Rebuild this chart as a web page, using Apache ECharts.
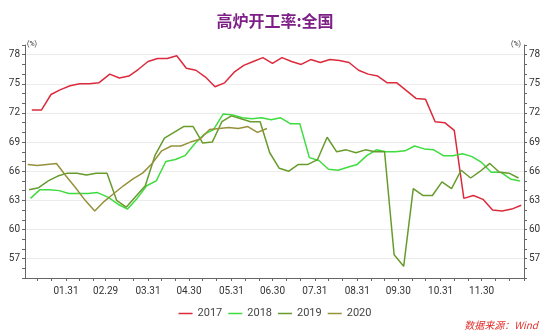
<!DOCTYPE html>
<html><head><meta charset="utf-8">
<script src="https://cdn.jsdelivr.net/npm/echarts@6/dist/echarts.min.js"></script>
<style>html,body{margin:0;padding:0;background:#fff}#c{width:550px;height:331px}</style>
</head><body><div id="c"></div>
<script>
const chartTitle = '高炉开工率:全国';
const sourceText = '数据来源：Wind';
const unitText = '(%)';
const seriesNames = ['2017', '2018', '2019', '2020'];
const firstWeek = ['2017-01-06', '2018-01-05', '2019-01-04', '2020-01-03'];
const tickLabels = ['01.31','02.29','03.31','04.30','05.31','06.30','07.31','08.31','09.30','10.31','11.30'];
const monthEnds = ['01.31','02.29','03.31','04.30','05.31','06.30','07.31','08.31','09.30','10.31','11.30','12.31'];
const yLabelValues = [57, 60, 63, 66, 69, 72, 75, 78];

const v2017 = [72.3,72.3,73.9,74.4,74.8,75.0,75.0,75.1,76.0,75.6,75.8,76.5,77.3,77.6,77.6,77.9,76.6,76.4,75.7,74.7,75.1,76.2,76.9,77.3,77.7,77.1,77.7,77.3,77.0,77.5,77.2,77.5,77.4,77.2,76.4,76.0,75.8,75.1,75.1,74.3,73.5,73.4,71.1,71.0,70.2,63.2,63.5,63.1,62.0,61.9,62.1,62.5];
const v2018 = [63.2,64.1,64.1,64.0,63.7,63.7,63.7,63.8,63.3,62.6,62.1,63.2,64.5,65.0,67.0,67.2,67.6,68.8,69.8,70.3,71.9,71.8,71.5,71.4,71.5,71.3,71.5,70.9,70.9,67.4,67.1,66.2,66.1,66.4,66.7,67.6,68.2,68.0,68.0,68.1,68.6,68.3,68.2,67.6,67.6,67.8,67.5,66.9,65.9,65.9,65.2,65.0];
const v2019 = [64.1,64.3,65.0,65.5,65.8,65.8,65.6,65.8,65.8,63.0,62.3,63.4,64.5,67.6,69.4,70.0,70.6,70.6,68.9,69.0,71.1,71.7,71.4,71.1,71.1,67.9,66.3,66.0,66.7,66.7,67.2,69.5,68.0,68.2,67.9,68.2,68.0,68.0,57.4,56.2,64.2,63.5,63.5,64.9,64.2,66.1,65.3,66.0,66.8,65.9,65.8,65.3];
const v2020 = [66.7,66.6,66.7,66.8,65.5,64.3,63.0,61.9,62.9,63.7,64.5,65.2,65.8,66.8,68.1,68.6,68.6,69.0,69.3,70.3,70.4,70.5,70.4,70.6,70.0,70.4];
const values = [v2017, v2018, v2019, v2020];
const colors = ['#dc2a3c', '#3fdc3f', '#679b2c', '#96913a'];

function mmdd(d) {
  return String(d.getUTCMonth() + 1).padStart(2, '0') + '.' + String(d.getUTCDate()).padStart(2, '0');
}
// day categories of a leap year (month.day)
const days = [];
for (let t = Date.UTC(2020, 0, 1); t <= Date.UTC(2020, 11, 31); t += 86400000) days.push(mmdd(new Date(t)));
function weekly(start, n) {
  const out = [];
  const t0 = Date.parse(start + 'T00:00:00Z');
  for (let i = 0; i < n; i++) out.push(mmdd(new Date(t0 + i * 7 * 86400000)));
  return out;
}

const chart = echarts.init(document.getElementById('c'), null, {renderer: 'canvas'});
const axisColor = '#666';
const labelFont = 'Roboto';
const yAxisBase = {
  type: 'value', min: 55, max: 79, interval: 1,
  axisLine: {show: true, lineStyle: {color: axisColor, width: 1}},
  axisTick: {show: true, length: 3, lineStyle: {color: axisColor}},
  axisLabel: {formatter: v => yLabelValues.indexOf(v) >= 0 ? String(v) : '', margin: 5, fontSize: 10, color: '#333', fontFamily: labelFont}
};
chart.setOption({
  backgroundColor: '#fff',
  animation: false,
  title: {text: chartTitle, left: 'center', top: 13, padding: 0,
    textStyle: {color: '#7d1f86', fontSize: 16, fontWeight: 'bold', fontFamily: 'Noto Sans CJK SC'}},
  legend: {data: seriesNames, left: 'center', top: 303, icon: 'rect', itemWidth: 14, itemHeight: 1.5, itemGap: 6,
    textStyle: {fontSize: 11, color: '#444', fontFamily: labelFont}},
  grid: {left: 25, right: 26, top: 45, bottom: 53},
  xAxis: {
    type: 'category', data: days, boundaryGap: false,
    axisLine: {show: true, lineStyle: {color: axisColor}},
    axisTick: {show: true, length: 3, lineStyle: {color: axisColor},
      interval: (i, name) => name.slice(3) === '10' || name.slice(3) === '20' || monthEnds.indexOf(name) >= 0},
    axisLabel: {interval: (i, name) => tickLabels.indexOf(name) >= 0, fontSize: 10, color: '#333', margin: 8, fontFamily: labelFont},
    splitLine: {show: false}
  },
  yAxis: [
    Object.assign({}, yAxisBase, {position: 'left',
      splitLine: {show: true, lineStyle: {color: ['rgba(0,0,0,0)', 'rgba(0,0,0,0)', '#ececec'], width: 1}}}),
    Object.assign({}, yAxisBase, {position: 'right', splitLine: {show: false}})
  ],
  graphic: [
    {type: 'text', left: 27, top: 41, style: {text: unitText, font: '7px Roboto', fill: '#333'}},
    {type: 'text', left: 511, top: 41, style: {text: unitText, font: '7px Roboto', fill: '#333'}},
    {type: 'text', right: 12, top: 320, style: {text: sourceText, font: 'italic 10px "Noto Sans CJK SC"', fill: '#e0302c'}}
  ],
  series: seriesNames.map((name, s) => {
    const dates = weekly(firstWeek[s], values[s].length);
    return {
      name: name, type: 'line', symbol: 'none', smooth: false,
      color: colors[s],
      lineStyle: {width: 1.5, color: colors[s]},
      data: values[s].map((v, i) => [dates[i], v])
    };
  })
});
</script>
</body></html>
